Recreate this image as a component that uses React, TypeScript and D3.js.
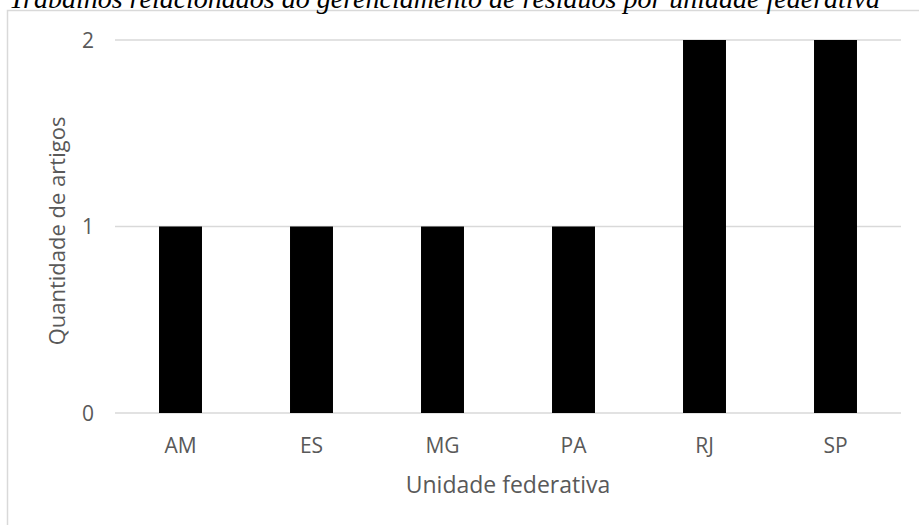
import React, { useEffect, useRef } from 'react';
import * as d3 from 'd3';

const categories = ['AM', 'ES', 'MG', 'PA', 'RJ', 'SP'];
const values = [1, 1, 1, 1, 2, 2];
const yTicks = [0, 1, 2];

const title = 'Trabalhos relacionados ao gerenciamento de resíduos por unidade federativa';
const xTitle = 'Unidade federativa';
const yTitle = 'Quantidade de artigos';

const App = () => {
  const svgRef = useRef<SVGSVGElement>(null);

  useEffect(() => {
    const width = 919;
    const height = 525;
    const margin = { top: 40, right: 18, bottom: 112, left: 115 };
    const font = "'Open Sans', sans-serif";
    const textColor = '#595959';

    const svg = d3.select(svgRef.current);
    svg.selectAll('*').remove();
    svg.attr('width', width).attr('height', height);

    // chart frame
    svg.append('rect')
      .attr('x', 7.5)
      .attr('y', 10.5)
      .attr('width', width)
      .attr('height', height)
      .attr('fill', 'white')
      .attr('stroke', '#d9d9d9')
      .attr('stroke-width', 1.5);

    // title, clipped at the top as in the source
    svg.append('text')
      .attr('x', 9)
      .attr('y', 8)
      .attr('font-family', "'Liberation Serif', 'Times New Roman', serif")
      .attr('font-style', 'italic')
      .attr('font-size', 28)
      .attr('fill', '#000')
      .text(title);

    const innerW = width - margin.left - margin.right;
    const innerH = height - margin.top - margin.bottom;

    const g = svg.append('g').attr('transform', `translate(${margin.left},${margin.top})`);

    const x = d3.scaleBand()
      .domain(categories)
      .range([0, innerW])
      .paddingInner(0.672)
      .paddingOuter(0.336);

    const y = d3.scaleLinear().domain([0, 2]).range([innerH, 0]);

    // gridlines
    g.append('g')
      .selectAll('line')
      .data(yTicks)
      .join('line')
      .attr('x1', 0)
      .attr('x2', innerW)
      .attr('y1', d => y(d))
      .attr('y2', d => y(d))
      .attr('stroke', '#d9d9d9')
      .attr('stroke-width', 1.5);

    // y tick labels
    g.append('g')
      .selectAll('text')
      .data(yTicks)
      .join('text')
      .attr('x', -21)
      .attr('y', d => y(d))
      .attr('dy', '0.36em')
      .attr('text-anchor', 'end')
      .attr('font-family', font)
      .attr('font-size', 21)
      .attr('fill', textColor)
      .text(d => d);

    // bars
    g.append('g')
      .selectAll('rect')
      .data(values)
      .join('rect')
      .attr('x', (d, i) => x(categories[i]))
      .attr('y', d => y(d))
      .attr('width', x.bandwidth())
      .attr('height', d => innerH - y(d))
      .attr('fill', '#000');

    // x tick labels
    g.append('g')
      .selectAll('text')
      .data(categories)
      .join('text')
      .attr('x', d => x(d) + x.bandwidth() / 2)
      .attr('y', innerH + 40)
      .attr('text-anchor', 'middle')
      .attr('font-family', font)
      .attr('font-size', 21)
      .attr('fill', textColor)
      .text(d => d);

    // axis titles
    svg.append('text')
      .attr('x', 508)
      .attr('y', 493)
      .attr('text-anchor', 'middle')
      .attr('font-family', font)
      .attr('font-size', 23)
      .attr('fill', textColor)
      .text(xTitle);

    svg.append('text')
      .attr('transform', `translate(65,${231}) rotate(-90)`)
      .attr('text-anchor', 'middle')
      .attr('font-family', font)
      .attr('font-size', 22)
      .attr('fill', textColor)
      .text(yTitle);
  }, []);

  return (
    <div style={{ position: 'absolute', left: 0, top: 0 }}>
      <svg ref={svgRef} style={{ display: 'block' }}></svg>
    </div>
  );
};

export default App;
